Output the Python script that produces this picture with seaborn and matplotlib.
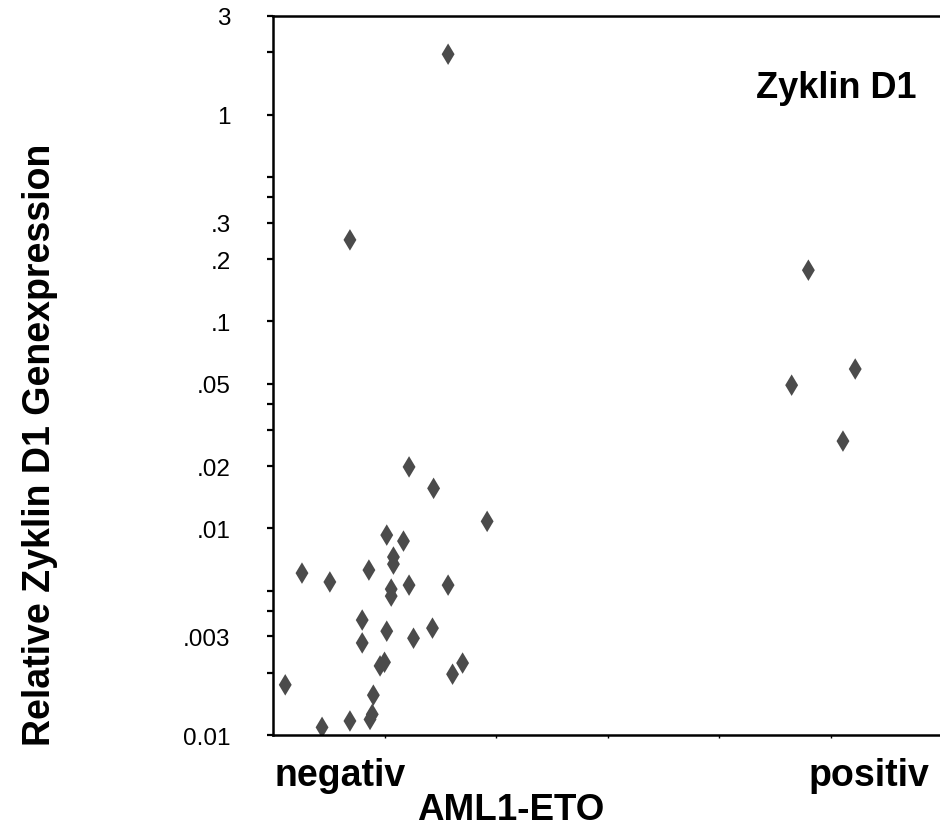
import pandas as pd
import matplotlib.pyplot as plt
import seaborn as sns

# AML1-ETO groups, x = horizontal spread of each point
groups = ["negativ", "positiv"]
neg_x = [1.57, 0.69, 1.22, 1.44, 1.92, 1.02, 1.17, 1.08, 1.08, 0.26, 0.51,
         0.86, 1.22, 1.57, 1.06, 1.06, 0.80, 0.80, 1.02, 1.26, 1.43, 0.96,
         1.00, 1.61, 1.70, 0.11, 0.90, 0.89, 0.87, 0.69, 0.44]
neg_y = [1.96, 0.248, 0.0198, 0.0156, 0.0108, 0.00927, 0.00867, 0.00726,
         0.00671, 0.00607, 0.0055, 0.00628, 0.00531, 0.00531, 0.00508, 0.0047,
         0.0036, 0.00279, 0.00318, 0.00294, 0.00329, 0.00216, 0.00225, 0.00197,
         0.00223, 0.00175, 0.00156, 0.00126, 0.00119, 0.00117, 0.00109]
pos_x = [4.80, 4.65, 5.22, 5.11]
pos_y = [0.177, 0.0492, 0.0589, 0.0264]

y_ticks = [3, 1, 0.3, 0.2, 0.1, 0.05, 0.02, 0.01, 0.003, 0.001]
y_tick_labels = ["3", "1", ".3", ".2", ".1", ".05", ".02", ".01", ".003", "0.01"]
y_minor = [2, 0.5, 0.4, 0.04, 0.03, 0.005, 0.004, 0.002]

df = pd.DataFrame({
    "aml1_eto": [groups[0]] * len(neg_x) + [groups[1]] * len(pos_x),
    "pos": neg_x + pos_x,
    "expr": neg_y + pos_y,
})

sns.set_style("white")
plt.rcParams["font.family"] = ["Liberation Sans", "DejaVu Sans"]
plt.rcParams["text.color"] = "black"
plt.rcParams["axes.labelcolor"] = "black"
plt.rcParams["xtick.color"] = "black"
plt.rcParams["ytick.color"] = "black"

fig = plt.figure(figsize=(9.4, 8.28), dpi=100)
ax = fig.add_axes([0.2904, 0.111, 0.7096, 0.8685])

sns.scatterplot(data=df, x="pos", y="expr", marker="d", s=120,
                color="#4b4b4b", edgecolor="none", legend=False, ax=ax)

ax.set_yscale("log")
ax.set_ylim(0.001, 3)
ax.set_xlim(0, 5.98)

ax.set_yticks(y_ticks, labels=y_tick_labels)
ax.set_yticks(y_minor, labels=[""] * len(y_minor), minor=True)
ax.tick_params(axis="y", which="both", direction="out", length=4.5, width=1.6,
               color="black", pad=26, labelsize=17.5, left=True)

# category labels under the axis, small marks along the bottom line
ax.set_xticks([0.60, 5.34], labels=groups)
ax.set_xticks([1, 2, 3, 4, 5], minor=True)
ax.tick_params(axis="x", which="major", length=0, pad=16, labelsize=27)
ax.tick_params(axis="x", which="minor", direction="out", length=2.5, width=1,
               color="black", bottom=True)
for lbl in ax.get_xticklabels():
    lbl.set_fontweight("bold")

for side in ["left", "top", "bottom"]:
    ax.spines[side].set_linewidth(1.8)
    ax.spines[side].set_color("black")
ax.spines["right"].set_visible(False)

ax.set_xlabel("AML1-ETO", fontsize=26.5, fontweight="bold")
ax.xaxis.set_label_coords(0.357, -0.079)
ax.set_ylabel("Relative Zyklin D1 Genexpression", fontsize=27, fontweight="bold")
ax.yaxis.set_label_coords(-0.322, 0.405)

ax.text(0.9655, 0.9, "Zyklin D1", transform=ax.transAxes, ha="right",
        va="center", fontsize=26, fontweight="bold")

fig.savefig("out.png", dpi=100)
